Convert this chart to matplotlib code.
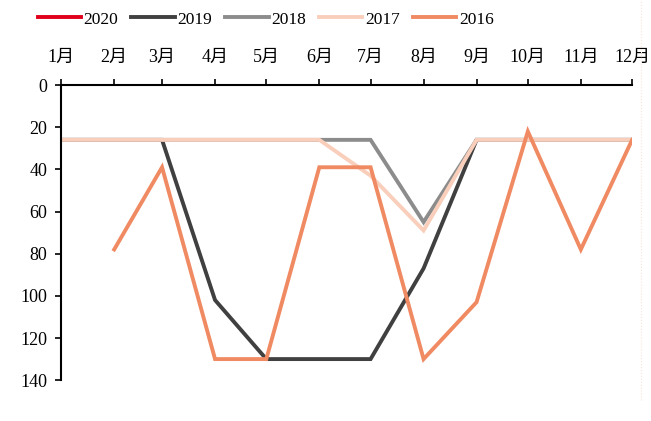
import matplotlib
matplotlib.use("Agg")
import matplotlib.pyplot as plt
import matplotlib.dates as mdates
import pandas as pd

plt.rcParams['font.family'] = ['Liberation Serif', 'Noto Sans CJK SC']

months = pd.date_range("2021-01-01", periods=12, freq="MS")
month_labels = [f"{m}月" for m in range(1, 13)]

SERIES = ["2020", "2019", "2018", "2017", "2016"]
COLORS = {
    "2020": "#e0001b",
    "2019": "#404040",
    "2018": "#8c8c8c",
    "2017": "#f9cfbb",
    "2016": "#f08a62",
}

v2020 = [26]
v2019 = [26, 26, 26, 102, 130, 130, 130, 87, 26, 26, 26, 26]
v2018 = [26, 26, 26, 26, 26, 26, 26, 65, 26, 26, 26, 26]
v2017 = [26, 26, 26, 26, 26, 26, 43, 69, 26, 26, 26, 26]
v2016 = [None, 78, 39, 130, 130, 39, 39, 130, 103, 22, 78, 26]
values = {"2020": v2020, "2019": v2019, "2018": v2018, "2017": v2017, "2016": v2016}

fig = plt.figure(figsize=(6.51, 4.21), dpi=100)
ax = fig.add_axes([0.094, 0.097, 0.877, 0.701])

for name in SERIES:
    vals = values[name]
    x = months[:len(vals)]
    y = [float("nan") if v is None else v for v in vals]
    ax.plot(x, y, color=COLORS[name], linewidth=2.8, label=name,
            solid_joinstyle="miter")

ax.set_xlim(months[0], months[-1])
ax.set_ylim(140, 0)
ax.set_yticks(range(0, 141, 20))
ax.set_xticks(months)
ax.set_xticklabels(month_labels)
ax.xaxis.tick_top()
ax.tick_params(axis="x", direction="out", length=4, width=1.2, labelsize=13, pad=10)
ax.tick_params(axis="y", direction="out", length=4, width=1.2, labelsize=13, pad=6)
ax.spines["bottom"].set_visible(False)
ax.spines["right"].set_visible(False)
ax.spines["top"].set_linewidth(1.5)
ax.spines["left"].set_linewidth(1.5)

fig.legend(loc="upper center", bbox_to_anchor=(0.408, 1.01), ncol=5, frameon=False,
           fontsize=12.5, handlelength=2.5, handletextpad=0.15, columnspacing=0.75)

fig.add_artist(plt.Line2D([0.984, 0.984], [0.05, 1.0], color="#fbe3da",
                          linewidth=0.8, linestyle=":"))

fig.savefig("out.png", dpi=100)
